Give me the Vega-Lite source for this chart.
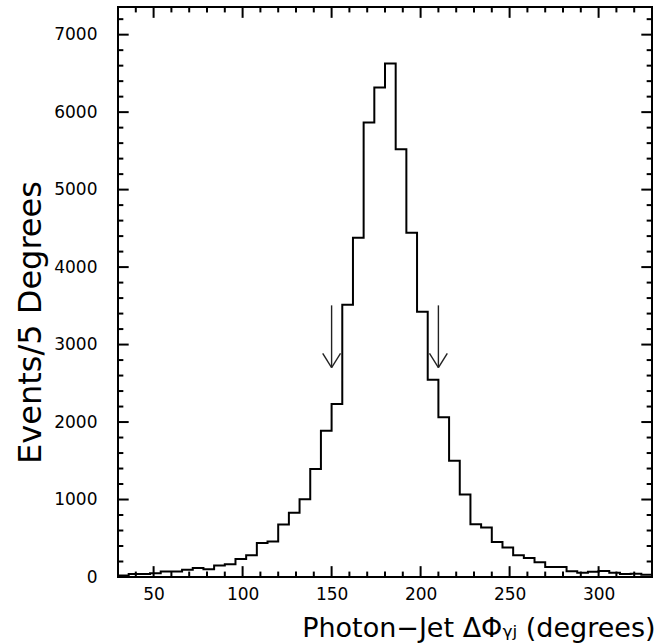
{
  "$schema": "https://vega.github.io/schema/vega-lite/v6.json",
  "width": 534,
  "height": 570,
  "autosize": {"type": "none"},
  "padding": {"left": 118, "top": 7, "right": 8, "bottom": 66},
  "background": "white",
  "config": {
    "view": {"stroke": "black", "strokeWidth": 2},
    "axis": {
      "grid": false,
      "domain": false,
      "labelFont": "DejaVu Sans",
      "labelFontSize": 17,
      "labelColor": "black",
      "titleFont": "DejaVu Sans",
      "titleColor": "black",
      "titleFontWeight": "normal"
    }
  },
  "datasets": {
    "hist": [
      {"x": 30, "y": 20}, {"x": 36, "y": 38}, {"x": 42, "y": 38}, {"x": 48, "y": 50},
      {"x": 54, "y": 70}, {"x": 60, "y": 70}, {"x": 66, "y": 92}, {"x": 72, "y": 116},
      {"x": 78, "y": 100}, {"x": 84, "y": 150}, {"x": 90, "y": 164}, {"x": 96, "y": 232},
      {"x": 102, "y": 280}, {"x": 108, "y": 440}, {"x": 114, "y": 457}, {"x": 120, "y": 677},
      {"x": 126, "y": 828}, {"x": 132, "y": 1005}, {"x": 138, "y": 1393}, {"x": 144, "y": 1889},
      {"x": 150, "y": 2234}, {"x": 156, "y": 3515}, {"x": 162, "y": 4378}, {"x": 168, "y": 5865},
      {"x": 174, "y": 6318}, {"x": 180, "y": 6629}, {"x": 186, "y": 5520}, {"x": 192, "y": 4442},
      {"x": 198, "y": 3424}, {"x": 204, "y": 2545}, {"x": 210, "y": 2062}, {"x": 216, "y": 1501},
      {"x": 222, "y": 1066}, {"x": 228, "y": 681}, {"x": 234, "y": 638}, {"x": 240, "y": 453},
      {"x": 246, "y": 380}, {"x": 252, "y": 280}, {"x": 258, "y": 246}, {"x": 264, "y": 190},
      {"x": 270, "y": 129}, {"x": 276, "y": 129}, {"x": 282, "y": 73}, {"x": 288, "y": 56},
      {"x": 294, "y": 69}, {"x": 300, "y": 78}, {"x": 306, "y": 56}, {"x": 312, "y": 39},
      {"x": 318, "y": 43}, {"x": 324, "y": 30}, {"x": 330, "y": 30}
    ],
    "arrows": [
      {"pos": 150, "top": 3506, "tip": 2704, "wl": 145, "wr": 155, "wy": 2885},
      {"pos": 210, "top": 3506, "tip": 2704, "wl": 205, "wr": 215, "wy": 2885}
    ],
    "xmajor": [{"v": 50}, {"v": 100}, {"v": 150}, {"v": 200}, {"v": 250}, {"v": 300}],
    "xminor": [{"v": 40}, {"v": 60}, {"v": 70}, {"v": 80}, {"v": 90}, {"v": 110}, {"v": 120}, {"v": 130}, {"v": 140}, {"v": 160}, {"v": 170}, {"v": 180}, {"v": 190}, {"v": 210}, {"v": 220}, {"v": 230}, {"v": 240}, {"v": 260}, {"v": 270}, {"v": 280}, {"v": 290}, {"v": 310}, {"v": 320}],
    "ymajor": [{"v": 1000}, {"v": 2000}, {"v": 3000}, {"v": 4000}, {"v": 5000}, {"v": 6000}, {"v": 7000}],
    "yminor": [{"v": 200}, {"v": 400}, {"v": 600}, {"v": 800}, {"v": 1200}, {"v": 1400}, {"v": 1600}, {"v": 1800}, {"v": 2200}, {"v": 2400}, {"v": 2600}, {"v": 2800}, {"v": 3200}, {"v": 3400}, {"v": 3600}, {"v": 3800}, {"v": 4200}, {"v": 4400}, {"v": 4600}, {"v": 4800}, {"v": 5200}, {"v": 5400}, {"v": 5600}, {"v": 5800}, {"v": 6200}, {"v": 6400}, {"v": 6600}, {"v": 6800}, {"v": 7200}]
  },
  "encoding": {
    "x": {"type": "quantitative", "scale": {"domain": [30, 330], "nice": false, "zero": false}},
    "y": {"type": "quantitative", "scale": {"domain": [0, 7357], "nice": false}}
  },
  "layer": [
    {
      "data": {"name": "hist"},
      "mark": {"type": "line", "interpolate": "step-after", "stroke": "black", "strokeWidth": 2},
      "encoding": {
        "x": {
          "field": "x", "type": "quantitative",
          "axis": {
            "orient": "bottom",
            "values": [50, 100, 150, 200, 250, 300],
            "format": "d",
            "ticks": false,
            "labelPadding": 9,
            "title": "Photon−Jet ΔΦᵧⱼ (degrees)",
            "titleFontSize": 27,
            "titleX": 537,
            "titleY": 59,
            "titleAlign": "right",
            "titleBaseline": "alphabetic"
          }
        },
        "y": {
          "field": "y", "type": "quantitative",
          "axis": {
            "orient": "left",
            "values": [0, 1000, 2000, 3000, 4000, 5000, 6000, 7000],
            "format": "d",
            "ticks": false,
            "labelPadding": 21,
            "title": "Events/5 Degrees",
            "titleFontSize": 32,
            "titleAngle": -90,
            "titleX": -88,
            "titleY": 315,
            "titleAlign": "center",
            "titleBaseline": "middle"
          }
        }
      }
    },
    {
      "data": {"name": "arrows"},
      "mark": {"type": "rule", "stroke": "#222", "strokeWidth": 1.4},
      "encoding": {"x": {"field": "pos"}, "y": {"field": "top"}, "y2": {"field": "tip"}}
    },
    {
      "data": {"name": "arrows"},
      "mark": {"type": "rule", "stroke": "#222", "strokeWidth": 1.4},
      "encoding": {"x": {"field": "wl"}, "y": {"field": "wy"}, "x2": {"field": "pos"}, "y2": {"field": "tip"}}
    },
    {
      "data": {"name": "arrows"},
      "mark": {"type": "rule", "stroke": "#222", "strokeWidth": 1.4},
      "encoding": {"x": {"field": "wr"}, "y": {"field": "wy"}, "x2": {"field": "pos"}, "y2": {"field": "tip"}}
    },
    {
      "data": {"name": "xmajor"},
      "mark": {"type": "rule", "color": "black", "strokeWidth": 2},
      "encoding": {"x": {"field": "v"}, "y": {"datum": 0}, "y2": {"datum": 140}}
    },
    {
      "data": {"name": "xmajor"},
      "mark": {"type": "rule", "color": "black", "strokeWidth": 2},
      "encoding": {"x": {"field": "v"}, "y": {"datum": 7357}, "y2": {"datum": 7217}}
    },
    {
      "data": {"name": "xminor"},
      "mark": {"type": "rule", "color": "black", "strokeWidth": 2},
      "encoding": {"x": {"field": "v"}, "y": {"datum": 0}, "y2": {"datum": 70}}
    },
    {
      "data": {"name": "xminor"},
      "mark": {"type": "rule", "color": "black", "strokeWidth": 2},
      "encoding": {"x": {"field": "v"}, "y": {"datum": 7357}, "y2": {"datum": 7287}}
    },
    {
      "data": {"name": "ymajor"},
      "mark": {"type": "rule", "color": "black", "strokeWidth": 2},
      "encoding": {"y": {"field": "v"}, "x": {"datum": 30}, "x2": {"datum": 36}}
    },
    {
      "data": {"name": "ymajor"},
      "mark": {"type": "rule", "color": "black", "strokeWidth": 2},
      "encoding": {"y": {"field": "v"}, "x": {"datum": 330}, "x2": {"datum": 324}}
    },
    {
      "data": {"name": "yminor"},
      "mark": {"type": "rule", "color": "black", "strokeWidth": 2},
      "encoding": {"y": {"field": "v"}, "x": {"datum": 30}, "x2": {"datum": 33}}
    },
    {
      "data": {"name": "yminor"},
      "mark": {"type": "rule", "color": "black", "strokeWidth": 2},
      "encoding": {"y": {"field": "v"}, "x": {"datum": 330}, "x2": {"datum": 327}}
    }
  ]
}
